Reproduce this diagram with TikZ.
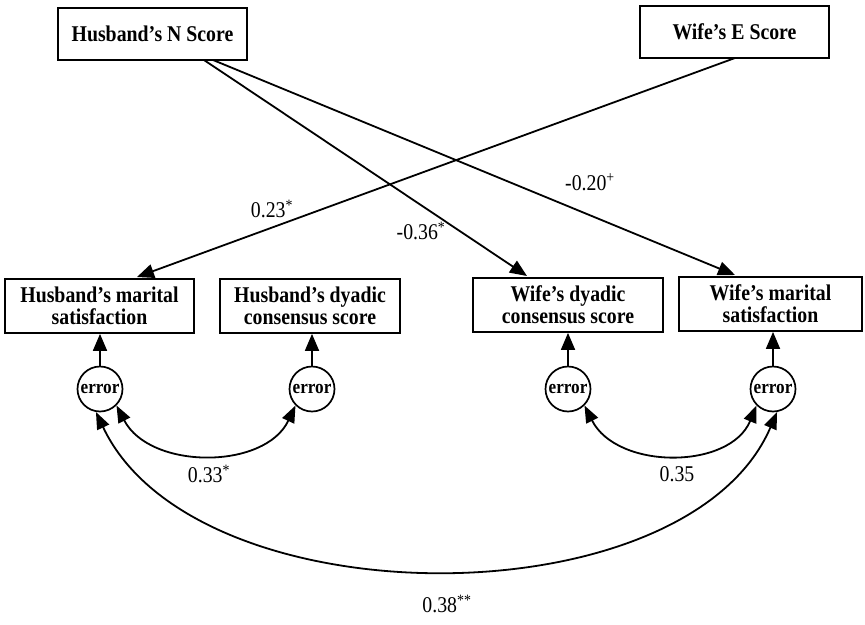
\documentclass[tikz,border=0pt]{standalone}
\usepackage{fontspec}
\setmainfont{Liberation Serif}[FakeStretch=0.88]
\usetikzlibrary{arrows.meta,shapes.geometric}
\begin{document}
\begin{tikzpicture}[x=1pt,y=-1pt,
  box/.style={draw,line width=1.8pt,inner sep=0pt,font=\fontsize{22.5}{22}\selectfont\bfseries,align=center},
  err/.style={draw,line width=1.7pt,circle,inner sep=0pt,minimum size=45pt,font=\fontsize{19.5}{19}\selectfont\bfseries},
  conn/.style={line width=1.8pt,-{Triangle[length=17pt,width=14pt]}},
  dconn/.style={line width=1.8pt,{Triangle[length=17pt,width=13pt]}-{Triangle[length=17pt,width=13pt]}},
  lbl/.style={font=\fontsize{22.5}{22}\selectfont}]
\useasboundingbox (0,0) rectangle (865,624);
\node[box,minimum width=189pt,minimum height=52pt] (hn) at (152.5,34) {Husband’s N Score};
\node[box,minimum width=189pt,minimum height=52pt] (we) at (734.5,32) {Wife’s E Score};
\node[box,minimum width=189pt,minimum height=54pt] (hm) at (99.5,306) {Husband’s marital\\satisfaction};
\node[box,minimum width=180pt,minimum height=54pt] (hd) at (310,306) {Husband’s dyadic\\consensus score};
\node[box,minimum width=190pt,minimum height=54pt] (wd) at (568,305) {Wife’s dyadic\\consensus score};
\node[box,minimum width=183pt,minimum height=54pt] (wm) at (770.5,304) {Wife’s marital\\satisfaction};
\node[err] (e1) at (100,389) {error};
\node[err] (e2) at (312,389) {error};
\node[err] (e3) at (568,389) {error};
\node[err] (e4) at (773,389) {error};
\coordinate (hnA) at (204,60);
\coordinate (hnB) at (213,60);
\coordinate (weA) at (735,58);
\coordinate (hmT) at (137,277);
\coordinate (wdT) at (527,276);
\coordinate (wmT) at (735,275);
\draw[conn] (weA) -- (hmT);
\draw[conn] (hnA) -- (wdT);
\draw[conn] (hnB) -- (wmT);
\draw[conn] (e1.north) -- (e1.north |- hm.south);
\draw[conn] (e2.north) -- (e2.north |- hd.south);
\draw[conn] (e3.north) -- (e3.north |- wd.south);
\draw[conn] (e4.north) -- (e4.north |- wm.south);
\draw[dconn] (e1.-45) .. controls (150,470) and (265,470) .. (e2.-135);
\draw[dconn] (e3.-45) .. controls (617,470) and (730,470) .. (e4.-135);
\draw[dconn] (e1.-100) .. controls (195,622) and (687,622) .. (e4.-80);
\node[lbl] (l1) at (272,209) {0.23\textsuperscript{*}};
\node[lbl] (l2) at (421,231) {-0.36\textsuperscript{*}};
\node[lbl] (l3) at (590,182) {-0.20\textsuperscript{+}};
\node[lbl] (l4) at (209,474) {0.33\textsuperscript{*}};
\node[lbl] (l5) at (677,474) {0.35};
\node[lbl] (l6) at (447,604) {0.38\textsuperscript{**}};
\end{tikzpicture}
\end{document}
